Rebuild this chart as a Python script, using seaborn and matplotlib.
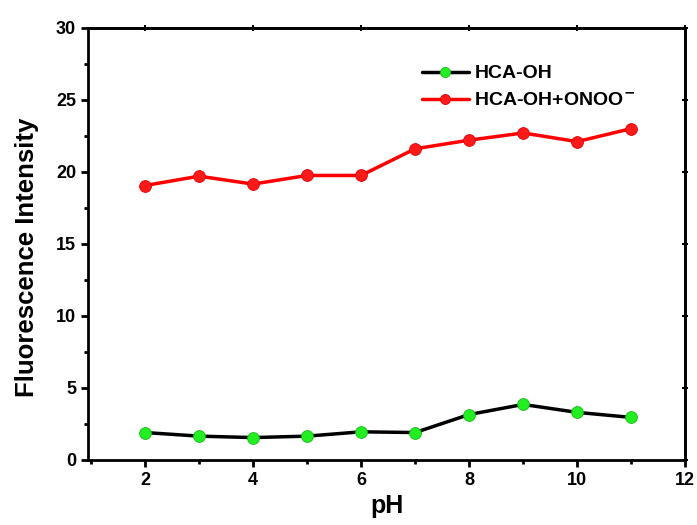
import pandas as pd
import numpy as np
import matplotlib
matplotlib.use('Agg')
import matplotlib.pyplot as plt
import seaborn as sns
from matplotlib.ticker import MultipleLocator

# valores
ph = [2, 3, 4, 5, 6, 7, 8, 9, 10, 11]
hca_oh = [1.9, 1.65, 1.55, 1.65, 1.95, 1.9, 3.15, 3.85, 3.3, 2.95]
hca_oh_onoo = [19.05, 19.7, 19.15, 19.75, 19.75, 21.6, 22.2, 22.7, 22.1, 23.0]

nomes = ['HCA-OH', 'HCA-OH+ONOO$^{-}$']

df = pd.DataFrame({
    'pH': ph * 2,
    'Intensity': hca_oh + hca_oh_onoo,
    'Serie': [nomes[0]] * len(ph) + [nomes[1]] * len(ph),
})

sns.set_style('ticks')
plt.rcParams['font.family'] = ['Liberation Sans', 'DejaVu Sans']
plt.rcParams['font.weight'] = 'bold'
plt.rcParams['mathtext.default'] = 'bf'
plt.rcParams['text.color'] = 'black'
plt.rcParams['axes.labelcolor'] = 'black'
plt.rcParams['xtick.color'] = 'black'
plt.rcParams['ytick.color'] = 'black'

fig = plt.figure(figsize=(6.97, 5.25), dpi=100)
ax = fig.add_axes([0.126, 0.124, 0.857, 0.823])

sns.lineplot(data=df, x='pH', y='Intensity', hue='Serie',
             palette={nomes[0]: 'black', nomes[1]: 'red'},
             linewidth=2.5, legend=False, ax=ax)

# marcadores verdes e vermelhos
cores_marc = {nomes[0]: ('#22ee22', '#11bb11'), nomes[1]: ('#ff1a1a', '#dd0000')}
for nome, linha in zip(nomes, ax.lines):
    linha.set_marker('o')
    linha.set_markersize(8.5)
    linha.set_markerfacecolor(cores_marc[nome][0])
    linha.set_markeredgecolor(cores_marc[nome][1])
    linha.set_markeredgewidth(0.6)
    linha.set_label(nome)

ax.set_xlim(0.94, 12)
ax.set_ylim(0, 30)
ax.xaxis.set_major_locator(MultipleLocator(2))
ax.xaxis.set_minor_locator(MultipleLocator(1))
ax.yaxis.set_major_locator(MultipleLocator(5))
ax.yaxis.set_minor_locator(MultipleLocator(2.5))

for s in ax.spines.values():
    s.set_linewidth(2)
    s.set_visible(True)
    s.set_color('black')

ax.tick_params(which='major', direction='out', length=5, width=2, labelsize=13)
ax.tick_params(which='minor', direction='out', length=3, width=2)

# ticks pequenos no topo e na direita, sem rotulos
topo = ax.secondary_xaxis('top')
topo.xaxis.set_major_locator(MultipleLocator(2))
topo.tick_params(direction='inout', length=4, width=1.5, labeltop=False)
direita = ax.secondary_yaxis('right')
direita.yaxis.set_major_locator(MultipleLocator(5))
direita.tick_params(direction='inout', length=4, width=1.5, labelright=False)
for s in list(topo.spines.values()) + list(direita.spines.values()):
    s.set_linewidth(2)

for lab in ax.get_xticklabels() + ax.get_yticklabels():
    lab.set_fontweight('bold')

ax.set_xlabel('pH', fontsize=18, fontweight='bold', labelpad=4)
ax.set_ylabel('Fluorescence Intensity', fontsize=18.5, fontweight='bold')
ax.yaxis.set_label_coords(-0.082, 0.47)

ax.legend(loc='upper left', bbox_to_anchor=(0.53, 0.955), frameon=False,
          prop={'size': 14, 'weight': 'bold'}, handlelength=2.4,
          labelspacing=0.5, handletextpad=0.3, markerscale=0.85)

fig.savefig('out.png', dpi=100)
